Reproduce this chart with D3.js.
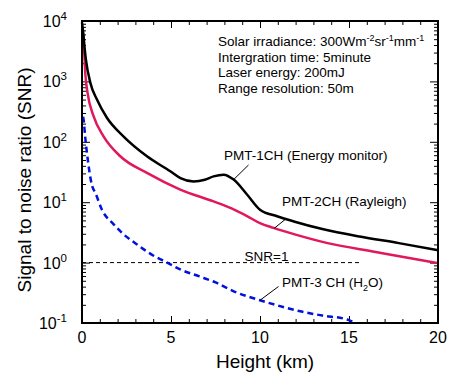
<!DOCTYPE html>
<html>
<head>
<meta charset="utf-8">
<script src="https://cdn.jsdelivr.net/npm/d3@7"></script>
<style>
  body { margin: 0; background: #fff; }
  svg { font-family: Arial, "Liberation Sans", sans-serif; }
</style>
</head>
<body>
<div id="chart"></div>
<script>
// data
const heightPmt1 = [0, 0.08, 0.15, 0.22, 0.47, 0.84, 1.4, 2.34, 3.65, 4.96, 5.53, 6.27, 6.9, 7.39, 7.96, 8.52, 9.27, 10.0, 10.96, 11.9, 13.5, 15.6, 17.8, 20];
const snrPmt1 = [9500, 6000, 3500, 2300, 945, 500, 250, 122, 57.6, 32.5, 25, 22, 23.5, 26.8, 28.6, 23.7, 13.4, 7.5, 5.85, 4.8, 3.6, 2.7, 2.1, 1.6];

const heightPmt2 = [0.03, 0.09, 0.19, 0.31, 0.65, 1.21, 2.15, 3.65, 5.52, 7.39, 8.4, 9.27, 10.0, 10.76, 12.0, 13.8, 16.5, 18.3, 20];
const snrPmt2 = [6500, 4600, 1290, 650, 265, 123, 57.6, 30.5, 16.2, 10.3, 7.9, 5.9, 4.5, 3.75, 2.9, 2.1, 1.5, 1.2, 0.98];

const heightPmt3 = [0.06, 0.09, 0.18, 0.28, 0.56, 0.75, 1.12, 1.78, 2.25, 3.09, 4.02, 4.78, 5.52, 6.6, 7.5, 8.52, 10.0, 11.0, 12.27, 13.5, 14.9, 15.35];
const snrPmt3 = [260, 233, 120, 65, 19, 14.3, 7.5, 4.3, 3.1, 2.0, 1.3, 1.0, 0.77, 0.59, 0.47, 0.335, 0.238, 0.195, 0.156, 0.133, 0.114, 0.1];

const xTicks = [0, 5, 10, 15, 20];
const yExponents = [-1, 0, 1, 2, 3, 4];
const infoLines = ["Intergration time: 5minute", "Laser energy: 200mJ", "Range resolution: 50m"];

const W = 450, H = 374;
const margin = { top: 21, right: 12, bottom: 51, left: 82 };

const svg = d3.select('#chart').append('svg')
  .attr('width', W).attr('height', H);

const x = d3.scaleLinear().domain([0, 20]).range([margin.left, W - margin.right]);
const y = d3.scaleLog().domain([0.1, 1e4]).range([H - margin.bottom, margin.top]);

// minor/major tick values
const xMinor = d3.range(0, 21, 1);
const yMinor = [];
yExponents.slice(0, -1).forEach(e => {
  for (let k = 2; k <= 9; k++) yMinor.push(k * Math.pow(10, e));
});
const yMajor = yExponents.map(e => Math.pow(10, e));

function tickAxis(axisFn, scale, values, size, transform) {
  const g = svg.append('g')
    .attr('transform', transform)
    .call(axisFn(scale).tickValues(values).tickSize(size).tickFormat(''));
  g.select('.domain').remove();
  g.selectAll('line').attr('stroke', '#000').attr('stroke-width', 1);
  return g;
}

// ticks pointing inward on all four sides
tickAxis(d3.axisBottom, x, xMinor, -4, `translate(0,${y.range()[0]})`);
tickAxis(d3.axisBottom, x, xTicks, -7, `translate(0,${y.range()[0]})`);
tickAxis(d3.axisTop, x, xMinor, -4, `translate(0,${y.range()[1]})`);
tickAxis(d3.axisTop, x, xTicks, -7, `translate(0,${y.range()[1]})`);
tickAxis(d3.axisLeft, y, yMinor, -4, `translate(${x.range()[0]},0)`);
tickAxis(d3.axisLeft, y, yMajor, -8, `translate(${x.range()[0]},0)`);
tickAxis(d3.axisRight, y, yMinor, -4, `translate(${x.range()[1]},0)`);
tickAxis(d3.axisRight, y, yMajor, -8, `translate(${x.range()[1]},0)`);

// SNR = 1 reference line
svg.append('line')
  .attr('x1', x(0)).attr('x2', x(15.7))
  .attr('y1', y(1)).attr('y2', y(1))
  .attr('stroke', '#000').attr('stroke-width', 1)
  .attr('stroke-dasharray', '4,3');

svg.append('text')
  .attr('x', 266.5).attr('y', y(1) - 2)
  .attr('text-anchor', 'middle')
  .style('font-size', '13.5px')
  .text('SNR=1');

// curves
const line = (xs, ys) => d3.line()
  .x((d, i) => x(xs[i]))
  .y(d => y(d))
  .curve(d3.curveMonotoneX)(ys);

svg.append('path')
  .attr('d', line(heightPmt2, snrPmt2))
  .attr('fill', 'none').attr('stroke', '#e0185c').attr('stroke-width', 2.5);

svg.append('path')
  .attr('d', line(heightPmt1, snrPmt1))
  .attr('fill', 'none').attr('stroke', '#000').attr('stroke-width', 2.5);

svg.append('path')
  .attr('d', line(heightPmt3, snrPmt3))
  .attr('fill', 'none').attr('stroke', '#0010e0').attr('stroke-width', 2.5)
  .attr('stroke-dasharray', '6,4');

// frame
svg.append('rect')
  .attr('x', x.range()[0]).attr('y', y.range()[1])
  .attr('width', x.range()[1] - x.range()[0])
  .attr('height', y.range()[0] - y.range()[1])
  .attr('fill', 'none').attr('stroke', '#000').attr('stroke-width', 2);

// x tick labels
svg.selectAll('.xlabel').data(xTicks).join('text')
  .attr('class', 'xlabel')
  .attr('x', d => x(d)).attr('y', y.range()[0] + 20)
  .attr('text-anchor', 'middle')
  .style('font-size', '16px')
  .text(d => d);

// y tick labels 10^n
const ylab = svg.selectAll('.ylabel').data(yExponents).join('text')
  .attr('class', 'ylabel')
  .attr('x', x.range()[0] - 15).attr('y', d => y(Math.pow(10, d)) + 6)
  .attr('text-anchor', 'end')
  .style('font-size', '16px');
ylab.append('tspan').text('10');
ylab.append('tspan').attr('dy', -7).style('font-size', '11.5px').text(d => d);

// axis titles
svg.append('text')
  .attr('x', 265).attr('y', 368)
  .attr('text-anchor', 'middle')
  .style('font-size', '19px')
  .text('Height (km)');

svg.append('text')
  .attr('transform', 'translate(31,180) rotate(-90)')
  .attr('text-anchor', 'middle')
  .style('font-size', '19px')
  .text('Signal to noise ratio (SNR)');

// measurement conditions
const info = svg.append('text')
  .attr('x', 218).attr('y', 46)
  .style('font-size', '13.5px');
info.append('tspan').text('Solar irradiance: 300Wm');
info.append('tspan').attr('dy', -5).style('font-size', '9px').text('-2');
info.append('tspan').attr('dy', 5).text('sr');
info.append('tspan').attr('dy', -5).style('font-size', '9px').text('-1');
info.append('tspan').attr('dy', 5).text('mm');
info.append('tspan').attr('dy', -5).style('font-size', '9px').text('-1');

infoLines.forEach((t, i) => {
  svg.append('text')
    .attr('x', 218).attr('y', 61.5 + i * 15.5)
    .style('font-size', '13.5px')
    .text(t);
});

// curve annotations with leader lines
const notes = [
  { hx: 8.52, hy: 23.7, label: 'PMT-1CH (Energy monitor)', tx: 224, ty: 160, lx: 248.5, ly: 165 },
  { hx: 10.8, hy: 3.7, label: 'PMT-2CH (Rayleigh)', tx: 282, ty: 206, lx: 287, ly: 218 },
  { hx: 10.0, hy: 0.238, label: null, tx: 282, ty: 287, lx: 278.5, ly: 286.5 }
];
notes.forEach(n => {
  svg.append('line')
    .attr('x1', x(n.hx)).attr('y1', y(n.hy))
    .attr('x2', n.lx).attr('y2', n.ly)
    .attr('stroke', '#000').attr('stroke-width', 1);
  if (n.label) {
    svg.append('text')
      .attr('x', n.tx).attr('y', n.ty)
      .style('font-size', '13.5px')
      .text(n.label);
  }
});

const h2o = svg.append('text')
  .attr('x', 282).attr('y', 287)
  .style('font-size', '13.5px');
h2o.append('tspan').text('PMT-3 CH (H');
h2o.append('tspan').attr('dy', 4).style('font-size', '9px').text('2');
h2o.append('tspan').attr('dy', -4).text('O)');
</script>
</body>
</html>
